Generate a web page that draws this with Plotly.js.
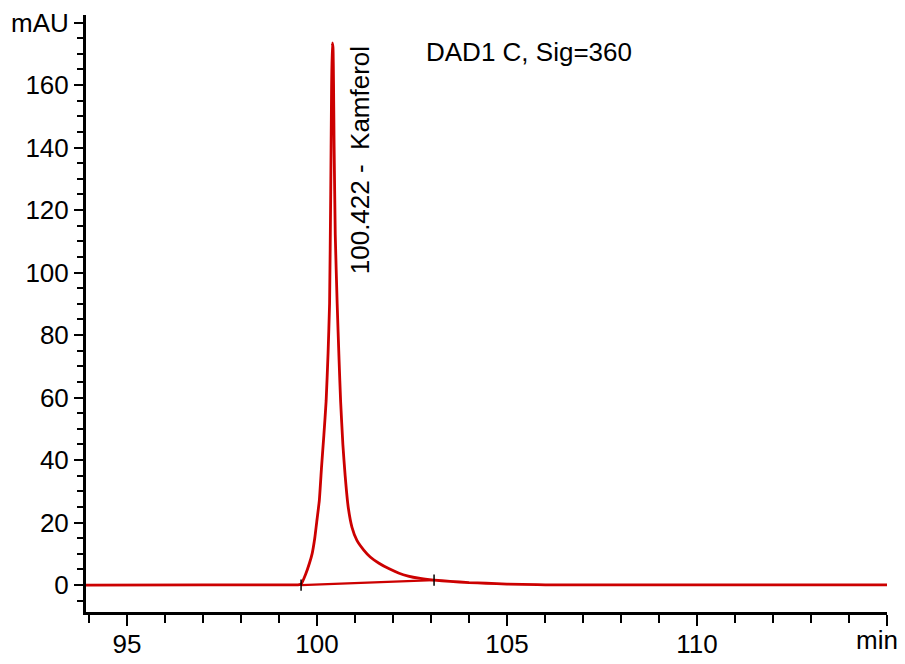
<!DOCTYPE html>
<html>
<head>
<meta charset="utf-8">
<script src="https://cdn.plot.ly/plotly-3.0.1.min.js"></script>
<style>html,body{margin:0;padding:0;background:#fff;}#chart{width:905px;height:664px;}</style>
</head>
<body>
<div id="chart"></div>
<script>
// Chromatogram signal (time in min, absorbance in mAU)
const timeMin = [93.92, 97.0, 98.8, 99.4, 99.50, 99.58, 99.70, 99.80, 99.87, 99.94, 100.00, 100.06, 100.12, 100.18, 100.24, 100.29, 100.33, 100.36, 100.38, 100.40, 100.42, 100.45, 100.48, 100.53, 100.58, 100.62, 100.68, 100.74, 100.82, 100.92, 101.05, 101.23, 101.40, 101.63, 101.90, 102.16, 102.40, 102.68, 103.08, 103.50, 104.00, 104.45, 105.00, 105.80, 106.20, 115.0];
const signalMAU = [0, 0.05, 0.05, 0.05, 0.1, 0.3, 3.5, 7, 10, 15, 21, 27, 38, 48, 59, 74, 90, 125, 155, 173.5, 172, 140, 112, 90, 72, 59, 45, 35, 25, 18.5, 14.3, 11.2, 9, 7.0, 5.2, 3.8, 2.9, 2.2, 1.6, 1.2, 0.8, 0.6, 0.35, 0.15, 0.05, 0.05];
// Integration baseline of the peak
const baseTime = [99.58, 103.08];
const baseMAU = [0, 1.6];
// Peak label
const peakLabel = "100.422 -\u00a0 Kamferol";
const signalTitle = "DAD1 C, Sig=360";
// Ticks
const yTickVals = [0, 20, 40, 60, 80, 100, 120, 140, 160, 180];
const yTickText = ["0", "20", "40", "60", "80", "100", "120", "140", "160", "mAU"];
const xTickVals = [95, 100, 105, 110, 115];
const xTickText = ["95", "100", "105", "110", ""];

const yMinor = [];
for (let v = -5; v <= 180; v += 5) if (v % 20 !== 0) yMinor.push(v);
const xMinor = [];
for (let v = 94; v <= 115; v += 1) if (v % 5 !== 0) xMinor.push(v);

const red = 'rgb(204,0,0)';
const fnt = {family: 'Arial, "Liberation Sans", sans-serif', size: 26, color: '#000'};

const traces = [
  {x: timeMin, y: signalMAU, type: 'scatter', mode: 'lines', line: {color: red, width: 2.8, shape: 'spline', smoothing: 0.4}, hoverinfo: 'skip'},
  {x: baseTime, y: baseMAU, type: 'scatter', mode: 'lines+markers', line: {color: red, width: 2.4},
   marker: {symbol: 'line-ns', size: 8, line: {color: '#000', width: 1.5}}, hoverinfo: 'skip'}
];

const layout = {
  width: 905, height: 664,
  margin: {l: 86, r: 18, t: 15, b: 52},
  paper_bgcolor: '#fff', plot_bgcolor: '#fff',
  showlegend: false,
  font: fnt,
  xaxis: {
    range: [93.92, 115.0], showgrid: false, zeroline: false,
    showline: true, linecolor: '#000', linewidth: 3,
    ticks: 'outside', ticklen: 11, tickwidth: 2, tickcolor: '#000',
    tickmode: 'array', tickvals: xTickVals, ticktext: xTickText,
    ticklabelstandoff: -4,
    minor: {tickmode: 'array', tickvals: xMinor, ticks: 'outside', ticklen: 8, tickwidth: 2, tickcolor: '#000', showgrid: false},
    tickfont: fnt, automargin: false
  },
  yaxis: {
    range: [-8.6, 182.4], showgrid: false, zeroline: false,
    showline: true, linecolor: '#000', linewidth: 3,
    ticks: 'outside', ticklen: 9, tickwidth: 2, tickcolor: '#000',
    tickmode: 'array', tickvals: yTickVals, ticktext: yTickText,
    minor: {tickmode: 'array', tickvals: yMinor, ticks: 'outside', ticklen: 6, tickwidth: 2, tickcolor: '#000', showgrid: false},
    tickfont: fnt, automargin: false
  },
  annotations: [
    {x: 101.12, y: 135.8, xref: 'x', yref: 'y', text: peakLabel, textangle: -90, showarrow: false,
     xanchor: 'center', yanchor: 'middle', font: fnt},
    {x: (529 - 86) / (905 - 86 - 18), y: 1 - (52 - 15) / (664 - 15 - 52), xref: 'paper', yref: 'paper',
     text: signalTitle, showarrow: false, font: fnt, xanchor: 'center', yanchor: 'middle'},
    {x: 1, y: 0, xref: 'paper', yref: 'paper', text: 'min', showarrow: false, font: fnt,
     xanchor: 'center', yanchor: 'top', xshift: -10, yshift: -11}
  ]
};

Plotly.newPlot('chart', traces, layout, {displayModeBar: false, staticPlot: true});
</script>
</body>
</html>
